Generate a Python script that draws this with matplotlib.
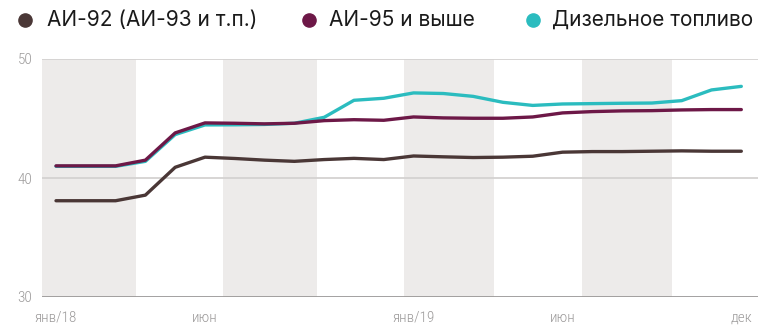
import matplotlib
matplotlib.use("Agg")
import matplotlib.pyplot as plt
from matplotlib.lines import Line2D

# Monthly retail fuel prices, Jan 2018 - Dec 2019 (rub/litre)
months = list(range(24))
ai92 = [38.09, 38.09, 38.09, 38.56, 40.9, 41.75, 41.64, 41.5, 41.4, 41.55, 41.65, 41.55,
        41.85, 41.78, 41.72, 41.75, 41.83, 42.17, 42.22, 42.22, 42.25, 42.28, 42.25, 42.25]
ai95 = [41.02, 41.02, 41.02, 41.5, 43.79, 44.63, 44.6, 44.55, 44.6, 44.82, 44.9, 44.85,
        45.13, 45.05, 45.02, 45.02, 45.13, 45.47, 45.58, 45.64, 45.66, 45.72, 45.75, 45.75]
diesel = [40.98, 40.98, 40.98, 41.4, 43.65, 44.46, 44.47, 44.5, 44.6, 45.1, 46.53, 46.7,
          47.15, 47.1, 46.86, 46.36, 46.1, 46.22, 46.25, 46.28, 46.3, 46.5, 47.4, 47.7]

series_names = ["АИ-92 (АИ-93 и т.п.)", "АИ-95 и выше", "Дизельное топливо"]
series_colors = ["#4a3736", "#6d1847", "#2bbcbf"]

tick_idx = [0, 5, 12, 17, 23]
tick_labels = ["янв/18", "июн", "янв/19", "июн", "дек"]
y_ticks = [30, 40, 50]

# shaded quarter bands (in month-index units)
bands = [(-0.5, 2.68), (5.6, 8.76), (11.68, 14.7), (17.65, 20.67)]

W, H = 758, 326
fig = plt.figure(figsize=(W / 100, H / 100), dpi=100)
ax = fig.add_axes([42 / W, 29 / H, (W - 42) / W, (297 - 59) / H])

for a, b in bands:
    ax.axvspan(a, b, color="#edebea", lw=0, zorder=0)

for y in y_ticks[1:]:
    ax.axhline(y, color="#d4d2d1", lw=1.3, zorder=1)
ax.axhline(y_ticks[0], color="#9a9898", lw=2, zorder=1)

for vals, c in zip([ai92, ai95, diesel][::-1], series_colors[::-1]):
    ax.plot(months, vals, color=c, lw=2.4, solid_capstyle="round",
            solid_joinstyle="round", zorder=3)

ax.set_xlim(-0.47, 23.56)
ax.set_ylim(30, 50)
for s in ax.spines.values():
    s.set_visible(False)
ax.set_xticks(tick_idx)
ax.set_xticklabels(tick_labels)
ax.set_yticks(y_ticks)
ax.tick_params(length=0, colors="#9c9a9a", labelsize=11)
ax.tick_params(axis="x", pad=10)
ax.tick_params(axis="y", pad=7)
for lab in ax.get_xticklabels() + ax.get_yticklabels():
    lab.set_family(["Roboto Condensed", "DejaVu Sans"])
    lab.set_fontweight(300)

# legend row along the top
leg_marker_x = [25, 309, 533]
leg_text_x = [47, 329, 552]
leg_y = 1 - 20 / H
for mx, tx, name, c in zip(leg_marker_x, leg_text_x, series_names, series_colors):
    fig.add_artist(Line2D([mx / W], [leg_y], marker="o", markersize=9.5,
                          color=c, lw=0, transform=fig.transFigure))
    fig.text(tx / W, leg_y, name, ha="left", va="center", fontsize=15,
             color="#1a1a1a", family=["Inter", "DejaVu Sans"])

fig.savefig("out.png", dpi=100)
